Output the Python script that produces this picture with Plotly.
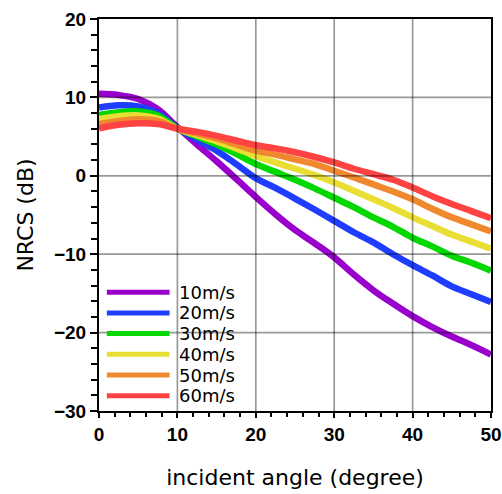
import plotly.graph_objects as go

# Incident angles (degrees) at which the NRCS curves are sampled
angles = [0, 2.5, 5, 7.5, 10, 12.5, 15, 17.5, 20, 22.5, 25,
          27.5, 30, 32.5, 35, 37.5, 40, 42.5, 45, 47.5, 50]

# NRCS (dB) for each wind speed
nrcs_10 = [10.45, 10.3, 9.8, 8.5, 6.2, 4.0, 1.85, -0.4, -2.7, -4.9, -6.9,
           -8.6, -10.4, -12.6, -14.6, -16.3, -17.9, -19.3, -20.5, -21.6, -22.8]
nrcs_20 = [8.7, 9.0, 8.85, 8.0, 6.1, 4.6, 3.2, 1.5, -0.3, -1.55, -2.9,
           -4.3, -5.75, -7.2, -8.5, -10.0, -11.4, -12.7, -14.1, -15.1, -16.1]
nrcs_30 = [7.75, 8.1, 8.2, 7.7, 6.05, 5.0, 4.0, 2.8, 1.5, 0.5, -0.5,
           -1.6, -2.8, -4.0, -5.3, -6.5, -7.9, -9.0, -10.2, -11.1, -12.1]
nrcs_40 = [7.25, 7.6, 7.7, 7.3, 6.0, 5.2, 4.4, 3.5, 2.5, 1.7, 0.9,
           0.1, -0.85, -1.9, -3.0, -4.1, -5.3, -6.4, -7.5, -8.4, -9.3]
nrcs_50 = [6.6, 7.0, 7.2, 7.0, 6.0, 5.4, 4.8, 4.0, 3.2, 2.7, 2.1,
           1.5, 0.64, -0.2, -1.1, -2.0, -3.0, -4.2, -5.3, -6.2, -7.1]
nrcs_60 = [6.05, 6.5, 6.7, 6.6, 6.0, 5.6, 5.1, 4.5, 3.9, 3.5, 3.0,
           2.4, 1.7, 0.9, 0.2, -0.5, -1.5, -2.6, -3.6, -4.5, -5.4]

labels = ["10m/s", "20m/s", "30m/s", "40m/s", "50m/s", "60m/s"]
series = [nrcs_10, nrcs_20, nrcs_30, nrcs_40, nrcs_50, nrcs_60]
colors = ["#9A00CC", "#1F3DFF", "#00D800", "#E8DE34", "#F0892E", "#FF4242"]

x_ticks = [0, 10, 20, 30, 40, 50]
y_ticks = [20, 10, 0, -10, -20, -30]
x_grid = [10, 20, 30, 40]
y_grid = [10, 0, -10, -20]

TITLE_FONT = "DejaVu Sans"
TICK_FONT = "Liberation Sans"

fig = go.Figure()
for lab, ys, col in zip(labels, series, colors):
    fig.add_trace(go.Scatter(
        x=angles, y=ys, mode="lines", name=lab,
        line=dict(color=col, width=6.5, shape="spline", smoothing=1.0),
        showlegend=False,
    ))

shapes = []
# grid lines drawn over the curves
for gx in x_grid:
    shapes.append(dict(type="line", xref="x", yref="y domain", x0=gx, x1=gx,
                       y0=0, y1=1, layer="above",
                       line=dict(color="rgba(0,0,0,0.4)", width=1.7)))
for gy in y_grid:
    shapes.append(dict(type="line", xref="x domain", yref="y", x0=0, x1=1,
                       y0=gy, y1=gy, layer="above",
                       line=dict(color="rgba(0,0,0,0.4)", width=1.7)))

# legend keys in the lower-left corner
annotations = []
leg_top = 0.303
leg_step = 0.0528
for i, (lab, col) in enumerate(zip(labels, colors)):
    yy = leg_top - i * leg_step
    shapes.append(dict(type="line", xref="x domain", yref="y domain",
                       x0=0.02, x1=0.18, y0=yy, y1=yy, layer="above",
                       line=dict(color=col, width=5)))
    annotations.append(dict(xref="x domain", yref="y domain", x=0.198, y=yy,
                            text=lab, showarrow=False, xanchor="left",
                            yanchor="middle",
                            font=dict(family=TITLE_FONT, size=18, color="black")))

fig.update_layout(
    width=502, height=494,
    margin=dict(l=99, r=11, t=19, b=83),
    plot_bgcolor="white", paper_bgcolor="white",
    shapes=shapes, annotations=annotations,
    font=dict(family=TITLE_FONT, color="black"),
    xaxis=dict(
        range=[0, 50], tickvals=x_ticks, showgrid=False, zeroline=False,
        automargin=False,
        showline=True, linecolor="black", linewidth=2, mirror=True,
        ticks="outside", ticklen=5, tickwidth=1.5, tickcolor="black",
        minor=dict(dtick=2, ticks="outside", ticklen=4, tickwidth=1.5,
                   tickcolor="black", showgrid=False),
        tickfont=dict(family=TICK_FONT, size=19, weight="bold"),
        title=dict(text="incident angle (degree)",
                   font=dict(family=TITLE_FONT, size=22), standoff=26),
    ),
    yaxis=dict(
        range=[-30, 20], tickvals=y_ticks, showgrid=False, zeroline=False,
        automargin=False,
        showline=True, linecolor="black", linewidth=2, mirror=True,
        ticks="outside", ticklen=7, tickwidth=1.5, tickcolor="black",
        minor=dict(dtick=2, ticks="outside", ticklen=6, tickwidth=1.5,
                   tickcolor="black", showgrid=False),
        tickfont=dict(family=TICK_FONT, size=19, weight="bold"),
        title=dict(text="NRCS (dB)", font=dict(family=TITLE_FONT, size=22),
                   standoff=14),
    ),
)

fig.write_html("out.html")
